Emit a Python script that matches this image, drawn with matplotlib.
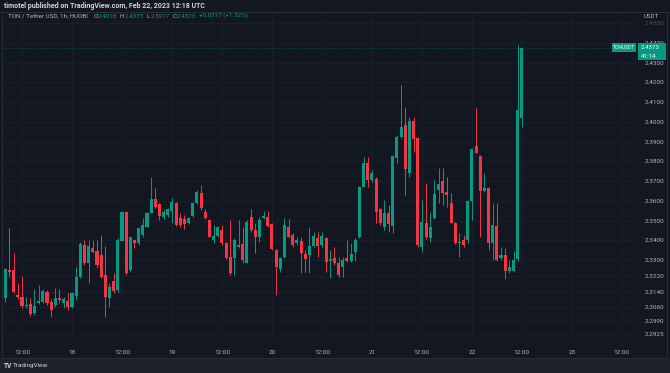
import numpy as np
import pandas as pd
import matplotlib
matplotlib.use("Agg")
import matplotlib.pyplot as plt
import matplotlib.dates as mdates
from matplotlib.patches import Rectangle

plt.rcParams['font.family'] = ['Roboto', 'DejaVu Sans']

# hourly candles TONUSDT (HUOBI), 17 Feb 08:00 -> 22 Feb 12:00 UTC
start = '2023-02-17 08:00'
opens = [2.3106, 2.3250, 2.3249, 2.3123, 2.3111, 2.3067, 2.3077, 2.3030, 2.3084, 2.3089,
         2.3139, 2.3089, 2.3072, 2.3106, 2.3085, 2.3092, 2.3063, 2.3117, 2.3212, 2.3376,
         2.3283, 2.3359, 2.3346, 2.3325, 2.3224, 2.3106, 2.3192, 2.3148, 2.3396, 2.3545,
         2.3249, 2.3401, 2.3385, 2.3427, 2.3469, 2.3540, 2.3609, 2.3584, 2.3516, 2.3528,
         2.3550, 2.3591, 2.3511, 2.3508, 2.3486, 2.3523, 2.3591, 2.3638, 2.3545, 2.3503,
         2.3401, 2.3422, 2.3452, 2.3388, 2.3314, 2.3308, 2.3368, 2.3381, 2.3286, 2.3516,
         2.3452, 2.3418, 2.3515, 2.3520, 2.3483, 2.3351, 2.3253, 2.3314, 2.3469, 2.3427,
         2.3385, 2.3398, 2.3330, 2.3325, 2.3371, 2.3410, 2.3376, 2.3410, 2.3297, 2.3308,
         2.3283, 2.3266, 2.3308, 2.3297, 2.3342, 2.3415, 2.3672, 2.3793, 2.3706, 2.3709,
         2.3557, 2.3469, 2.3540, 2.3472, 2.3815, 2.3925, 2.3984, 2.3739, 2.4006, 2.3917,
         2.3364, 2.3489, 2.3410, 2.3511, 2.3655, 2.3702, 2.3646, 2.3587, 2.3486, 2.3384,
         2.3401, 2.3401, 2.3601, 2.3878, 2.3827, 2.3651, 2.3663, 2.3384, 2.3472, 2.3308,
         2.3325, 2.3246, 2.3246, 2.3303, 2.4018]
highs = [2.3258, 2.3461, 2.3334, 2.3182, 2.3219, 2.3114, 2.3106, 2.3151, 2.3173, 2.3151,
         2.3148, 2.3101, 2.3156, 2.3153, 2.3114, 2.3131, 2.3139, 2.3266, 2.3393, 2.3401,
         2.3401, 2.3401, 2.3401, 2.3427, 2.3371, 2.3182, 2.3232, 2.3410, 2.3548, 2.3548,
         2.3418, 2.3405, 2.3469, 2.3511, 2.3545, 2.3721, 2.3663, 2.3587, 2.3557, 2.3562,
         2.3613, 2.3596, 2.3537, 2.3528, 2.3516, 2.3596, 2.3655, 2.3680, 2.3557, 2.3506,
         2.3477, 2.3472, 2.3477, 2.3393, 2.3503, 2.3410, 2.3503, 2.3469, 2.3503, 2.3557,
         2.3486, 2.3520, 2.3550, 2.3550, 2.3486, 2.3354, 2.3317, 2.3511, 2.3506, 2.3435,
         2.3418, 2.3418, 2.3351, 2.3469, 2.3444, 2.3444, 2.3444, 2.3418, 2.3351, 2.3368,
         2.3317, 2.3317, 2.3401, 2.3385, 2.3410, 2.3675, 2.3824, 2.3824, 2.3756, 2.3719,
         2.3562, 2.3604, 2.3579, 2.3832, 2.3934, 2.4187, 2.4077, 2.4027, 2.4023, 2.3922,
         2.3604, 2.3689, 2.3545, 2.3705, 2.3765, 2.3765, 2.3722, 2.3641, 2.3494, 2.3439,
         2.3427, 2.3604, 2.3866, 2.4069, 2.3832, 2.3739, 2.3668, 2.3587, 2.3587, 2.3368,
         2.3359, 2.3300, 2.3347, 2.4390, 2.4373]
lows = [2.3089, 2.3216, 2.3131, 2.3101, 2.3055, 2.3055, 2.3018, 2.3021, 2.3077, 2.3080,
        2.3072, 2.3013, 2.3063, 2.3080, 2.3055, 2.3047, 2.3055, 2.3097, 2.3207, 2.3275,
        2.3182, 2.3334, 2.3258, 2.3207, 2.3013, 2.3063, 2.3131, 2.3139, 2.3396, 2.3224,
        2.3241, 2.3359, 2.3376, 2.3418, 2.3466, 2.3537, 2.3562, 2.3503, 2.3506, 2.3520,
        2.3486, 2.3472, 2.3469, 2.3455, 2.3483, 2.3520, 2.3584, 2.3554, 2.3506, 2.3415,
        2.3385, 2.3415, 2.3376, 2.3303, 2.3224, 2.3224, 2.3359, 2.3283, 2.3283, 2.3444,
        2.3334, 2.3393, 2.3506, 2.3466, 2.3351, 2.3123, 2.3241, 2.3308, 2.3410, 2.3368,
        2.3376, 2.3232, 2.3241, 2.3236, 2.3368, 2.3317, 2.3368, 2.3241, 2.3207, 2.3275,
        2.3212, 2.3216, 2.3292, 2.3292, 2.3297, 2.3410, 2.3668, 2.3672, 2.3697, 2.3486,
        2.3477, 2.3452, 2.3444, 2.3435, 2.3790, 2.3917, 2.3629, 2.3722, 2.3849, 2.3368,
        2.3342, 2.3405, 2.3393, 2.3506, 2.3587, 2.3579, 2.3570, 2.3486, 2.3381, 2.3317,
        2.3364, 2.3384, 2.3503, 2.3841, 2.3418, 2.3646, 2.3351, 2.3300, 2.3297, 2.3300,
        2.3202, 2.3232, 2.3241, 2.3297, 2.3972]
closes = [2.3253, 2.3238, 2.3139, 2.3111, 2.3067, 2.3072, 2.3026, 2.3068, 2.3092, 2.3143,
          2.3080, 2.3047, 2.3106, 2.3097, 2.3101, 2.3060, 2.3134, 2.3216, 2.3381, 2.3283,
          2.3371, 2.3342, 2.3275, 2.3212, 2.3114, 2.3165, 2.3145, 2.3401, 2.3545, 2.3232,
          2.3415, 2.3388, 2.3461, 2.3477, 2.3540, 2.3609, 2.3570, 2.3523, 2.3545, 2.3557,
          2.3592, 2.3477, 2.3477, 2.3481, 2.3511, 2.3591, 2.3643, 2.3562, 2.3511, 2.3418,
          2.3422, 2.3466, 2.3388, 2.3308, 2.3232, 2.3401, 2.3376, 2.3300, 2.3494, 2.3452,
          2.3418, 2.3503, 2.3523, 2.3472, 2.3354, 2.3263, 2.3308, 2.3477, 2.3418, 2.3376,
          2.3401, 2.3337, 2.3303, 2.3371, 2.3422, 2.3371, 2.3422, 2.3292, 2.3303, 2.3283,
          2.3224, 2.3300, 2.3297, 2.3330, 2.3401, 2.3672, 2.3790, 2.3706, 2.3739, 2.3545,
          2.3486, 2.3537, 2.3482, 2.3827, 2.3925, 2.3976, 2.3760, 2.4006, 2.3912, 2.3376,
          2.3494, 2.3418, 2.3466, 2.3635, 2.3685, 2.3641, 2.3629, 2.3489, 2.3384, 2.3393,
          2.3376, 2.3601, 2.3861, 2.3844, 2.3651, 2.3663, 2.3384, 2.3477, 2.3300, 2.3325,
          2.3244, 2.3263, 2.3300, 2.4060, 2.4373]

price_ticks = [2.4500, 2.4400, 2.4300, 2.4200, 2.4100, 2.4000, 2.3900, 2.3800, 2.3700,
               2.3600, 2.3500, 2.3400, 2.3300, 2.3220, 2.3140, 2.3060, 2.2990, 2.2925]
time_ticks = ['2023-02-17 12:00', '2023-02-18 00:00', '2023-02-18 12:00', '2023-02-19 00:00',
              '2023-02-19 12:00', '2023-02-20 00:00', '2023-02-20 12:00', '2023-02-21 00:00',
              '2023-02-21 12:00', '2023-02-22 00:00', '2023-02-22 12:00', '2023-02-23 00:00',
              '2023-02-23 12:00']
time_labels = ['12:00', '18', '12:00', '19', '12:00', '20', '12:00', '21', '12:00', '22',
               '12:00', '23', '12:00']

last_price = 2.4373

UP = '#089981'
DOWN = '#f23645'
BG = '#131722'
TXT = '#b2b5be'
GRID = '#1c202b'

W, H = 670, 373
fig = plt.figure(figsize=(W / 100, H / 100), dpi=100, facecolor=BG)

# footer strip + panel frame
fig.patches.append(Rectangle((0, 0), 1, 15 / H, transform=fig.transFigure,
                             facecolor='#1e222d', edgecolor='none', zorder=0))
fig.patches.append(Rectangle((2 / W, 15 / H), 665 / W, (358 - 12) / H, transform=fig.transFigure,
                             facecolor='none', edgecolor='#2a2e39', lw=0.6, zorder=1))

ax = fig.add_axes([3 / W, (H - 340) / H, (636 - 3) / W, (340 - 12) / H])
ax.set_facecolor(BG)
for s in ax.spines.values():
    s.set_visible(False)

t = mdates.date2num(pd.date_range(start, periods=len(opens), freq='h'))
o = np.array(opens)
c = np.array(closes)
hi = np.array(highs)
lo = np.array(lows)
up = c >= o
cols = np.where(up, UP, DOWN)

ax.vlines(t, lo, hi, colors=cols, lw=0.7, zorder=3)
body = np.maximum(np.abs(c - o), 0.0004)
ax.bar(t, body, bottom=np.minimum(o, c), width=0.74 / 24, color=cols, lw=0, zorder=4)

ax.set_xlim(mdates.date2num(pd.Timestamp('2023-02-18 00:00') - pd.Timedelta(hours=16.56)),
            mdates.date2num(pd.Timestamp('2023-02-18 00:00') + pd.Timedelta(hours=135.4)))
ax.set_ylim(2.2895, 2.4557)

ax.set_xticks(mdates.date2num(pd.to_datetime(time_ticks)))
ax.set_xticklabels(time_labels)
ax.set_yticks(price_ticks)
ax.set_yticklabels(['%.4f' % v for v in price_ticks])
ax.yaxis.tick_right()
ax.tick_params(axis='both', length=0, colors=TXT, labelsize=4.6)
ax.tick_params(axis='x', pad=7)
ax.tick_params(axis='y', pad=6)
for lab in ax.get_yticklabels():
    lab.set_horizontalalignment('left')
ax.get_yticklabels()[0].set_alpha(0.35)
ax.grid(True, color=GRID, lw=0.6, zorder=0)

# last price line
ax.axhline(last_price, color=UP, lw=0.5, ls=(0, (1, 1.5)), alpha=0.55, zorder=2)

# price axis unit
fig.text(644 / W, 1 - 16 / H, 'USDT', color=TXT, fontsize=4.4, va='center', ha='left')

# current price labels
fig.patches.append(Rectangle((612 / W, 1 - 52 / H), 24 / W, 9 / H, transform=fig.transFigure,
                             facecolor=UP, edgecolor='none', zorder=5))
fig.text(624 / W, 1 - 47.5 / H, 'TONUSDT', color='white', fontsize=3.6, ha='center', va='center', zorder=6)
fig.patches.append(Rectangle((638 / W, 1 - 60 / H), 28 / W, 17 / H, transform=fig.transFigure,
                             facecolor=UP, edgecolor='none', zorder=5))
fig.text(641 / W, 1 - 47.5 / H, '%.4f' % last_price, color='white', fontsize=4.4, ha='left', va='center', zorder=6)
fig.text(641 / W, 1 - 56 / H, '41:14', color='white', fontsize=4.4, ha='left', va='center', zorder=6)

# header
fig.text(4 / W, 1 - 6 / H, 'timotel published on TradingView.com, Feb 22, 2023 12:18 UTC',
         color='#d1d4dc', fontsize=5, fontweight='bold', va='center', ha='left')
fig.add_artist(plt.Line2D([0, 1], [1 - 12 / H, 1 - 12 / H], color='#2a2e39', lw=0.6))

segs = [('O', TXT, 4), ('2.4018', UP, 0.3), ('H', TXT, 2), ('2.4373', UP, 0.3),
        ('L', TXT, 2), ('2.3917', UP, 0.3), ('C', TXT, 2), ('2.4373', UP, 0.3),
        ('+0.0317 (+1.32%)', UP, 2.5)]
prev = fig.text(8 / W, 1 - 17.5 / H, 'TON / Tether USD, 1h, HUOBI', color=TXT, fontsize=4.5,
                va='baseline', ha='left')
for txt, col, gap in segs:
    prev = plt.annotate(txt, xy=(1, 0), xycoords=prev, xytext=(gap, 0), textcoords='offset points',
                        color=col, fontsize=4.5, va='bottom', ha='left', annotation_clip=False)

# footer logo
fig.text(4 / W, 1 - 366 / H, 'TV', color='#d1d4dc', fontsize=4.8, fontweight='bold',
         va='center', ha='left')
fig.text(13 / W, 1 - 366 / H, 'TradingView', color='#d1d4dc', fontsize=4.6,
         va='center', ha='left')

fig.savefig('out.png', dpi=100, facecolor=BG)
